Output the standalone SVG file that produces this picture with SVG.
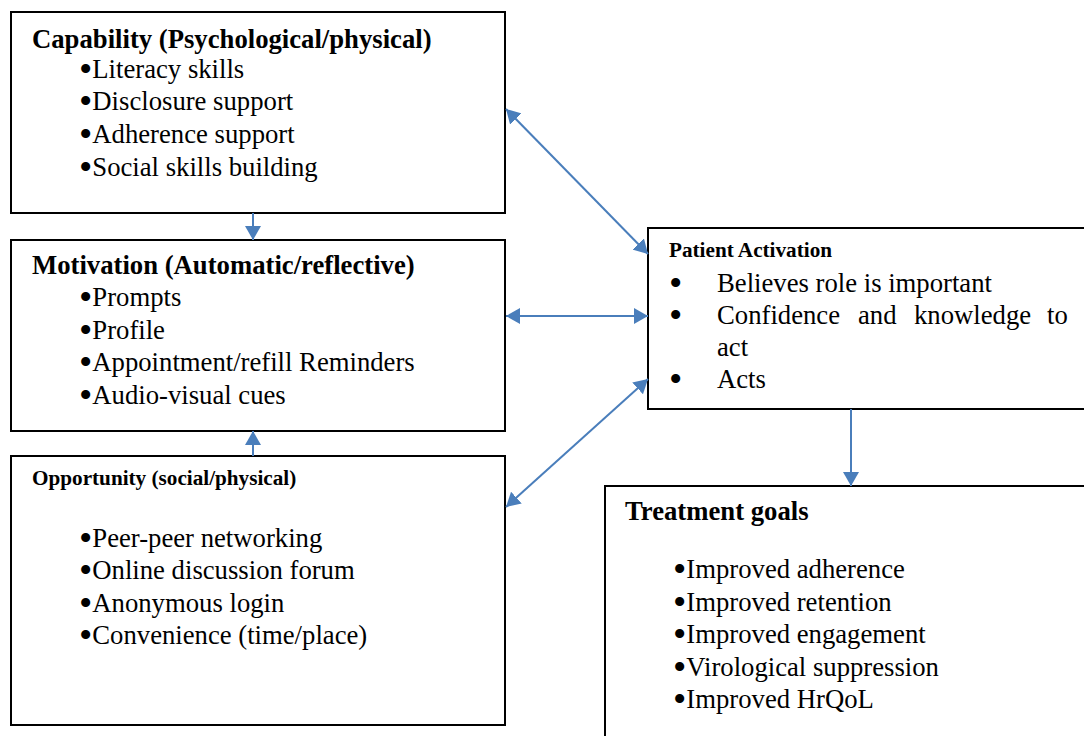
<svg xmlns="http://www.w3.org/2000/svg" width="1084" height="736" viewBox="0 0 1084 736">
<style>
.box{fill:#fff;stroke:#000;stroke-width:2}
.t{font-family:"Liberation Serif","Times New Roman",serif;font-size:26.7px;fill:#000}
.b{font-weight:bold}
.s{font-size:21.2px;font-weight:bold}
.bu{font-size:38px}
.c{stroke:#4A7EBB;stroke-width:2;fill:none}
</style>
<defs>
<marker id="ah" viewBox="0 0 14 16" refX="14" refY="8" markerWidth="14" markerHeight="16" markerUnits="userSpaceOnUse" orient="auto-start-reverse">
<path d="M0,0 L14,8 L0,16 z" fill="#4A7EBB"/>
</marker>
</defs>
<rect width="1084" height="736" fill="#fff"/>
<g id="capability">
<rect class="box" x="11" y="12" width="494" height="201"/>
<text class="t b" x="32" y="48">Capability (Psychological/physical)</text>
<text class="t" x="79" y="78"><tspan class="bu" dy="4">•</tspan><tspan dy="-4">Literacy skills</tspan></text>
<text class="t" x="79" y="110"><tspan class="bu" dy="4">•</tspan><tspan dy="-4">Disclosure support</tspan></text>
<text class="t" x="79" y="143"><tspan class="bu" dy="4">•</tspan><tspan dy="-4">Adherence support</tspan></text>
<text class="t" x="79" y="176"><tspan class="bu" dy="4">•</tspan><tspan dy="-4">Social skills building</tspan></text>
</g>
<g id="motivation">
<rect class="box" x="11" y="240" width="494" height="191"/>
<text class="t b" x="32" y="274">Motivation (Automatic/reflective)</text>
<text class="t" x="79" y="306"><tspan class="bu" dy="4">•</tspan><tspan dy="-4">Prompts</tspan></text>
<text class="t" x="79" y="339"><tspan class="bu" dy="4">•</tspan><tspan dy="-4">Profile</tspan></text>
<text class="t" x="79" y="371"><tspan class="bu" dy="4">•</tspan><tspan dy="-4">Appointment/refill Reminders</tspan></text>
<text class="t" x="79" y="404"><tspan class="bu" dy="4">•</tspan><tspan dy="-4">Audio-visual cues</tspan></text>
</g>
<g id="opportunity">
<rect class="box" x="11" y="456" width="494" height="269"/>
<text class="t s" x="32" y="485">Opportunity (social/physical)</text>
<text class="t" x="79" y="547"><tspan class="bu" dy="4">•</tspan><tspan dy="-4">Peer-peer networking</tspan></text>
<text class="t" x="79" y="579"><tspan class="bu" dy="4">•</tspan><tspan dy="-4">Online discussion forum</tspan></text>
<text class="t" x="79" y="612"><tspan class="bu" dy="4">•</tspan><tspan dy="-4">Anonymous login</tspan></text>
<text class="t" x="79" y="644"><tspan class="bu" dy="4">•</tspan><tspan dy="-4">Convenience (time/place)</tspan></text>
</g>
<g id="patient-activation">
<rect class="box" x="648" y="228" width="450" height="181"/>
<text class="t s" x="669" y="257">Patient Activation</text>
<text class="t" x="669" y="292"><tspan class="bu" dy="4">•</tspan><tspan x="717" dy="-4">Believes role is important</tspan></text>
<text class="t" x="669" y="324"><tspan class="bu" dy="4">•</tspan><tspan x="717" dy="-4">Confidence</tspan><tspan x="858">and</tspan><tspan x="914">knowledge</tspan><tspan x="1047">to</tspan></text>
<text class="t" x="717" y="356">act</text>
<text class="t" x="669" y="388"><tspan class="bu" dy="4">•</tspan><tspan x="717" dy="-4">Acts</tspan></text>
</g>
<g id="treatment-goals">
<rect class="box" x="605" y="486" width="500" height="270"/>
<text class="t b" x="625" y="520">Treatment goals</text>
<text class="t" x="673" y="578"><tspan class="bu" dy="4">•</tspan><tspan dy="-4">Improved adherence</tspan></text>
<text class="t" x="673" y="611"><tspan class="bu" dy="4">•</tspan><tspan dy="-4">Improved retention</tspan></text>
<text class="t" x="673" y="643"><tspan class="bu" dy="4">•</tspan><tspan dy="-4">Improved engagement</tspan></text>
<text class="t" x="673" y="676"><tspan class="bu" dy="4">•</tspan><tspan dy="-4">Virological suppression</tspan></text>
<text class="t" x="673" y="708"><tspan class="bu" dy="4">•</tspan><tspan dy="-4">Improved HrQoL</tspan></text>
</g>
<g id="connectors">
<line class="c" x1="253" y1="213" x2="253" y2="240" marker-end="url(#ah)"/>
<line class="c" x1="253" y1="456" x2="253" y2="431" marker-end="url(#ah)"/>
<line class="c" x1="506" y1="109" x2="648" y2="254" marker-start="url(#ah)" marker-end="url(#ah)"/>
<line class="c" x1="506" y1="316" x2="648" y2="316" marker-start="url(#ah)" marker-end="url(#ah)"/>
<line class="c" x1="506" y1="507" x2="648" y2="379" marker-start="url(#ah)" marker-end="url(#ah)"/>
<line class="c" x1="851" y1="409" x2="851" y2="486" marker-end="url(#ah)"/>
</g>
</svg>
